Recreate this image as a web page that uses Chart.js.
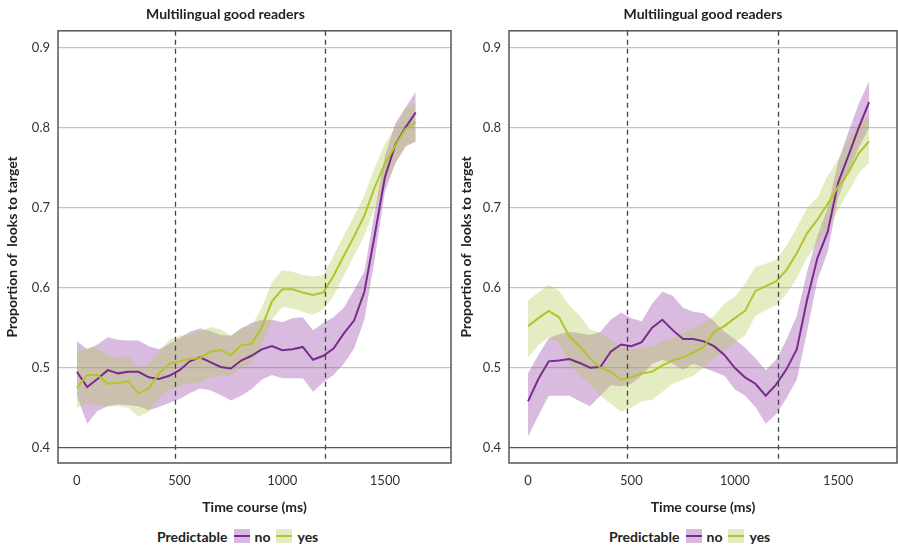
<!DOCTYPE html>
<html>
<head>
<meta charset="utf-8">
<script src="https://cdn.jsdelivr.net/npm/chart.js@4.4.1/dist/chart.umd.min.js"></script>
<style>
body{margin:0;background:#fff;font-family:Lato,sans-serif}
#wrap{position:relative;width:898px;height:550px;overflow:hidden}
.panel{position:absolute;top:0;height:520px}
.legend{position:absolute;top:527px;height:18px;font:bold 14px Lato,sans-serif;color:#222;display:flex;align-items:center;white-space:nowrap}
.sw{display:inline-block;width:16px;height:14px;position:relative;margin:0 5px 0 6px}
.sw i{position:absolute;left:0;right:0;top:6px;height:2px}
</style>
</head>
<body>
<div id="wrap">
  <div class="panel" style="left:0;width:454px"><canvas id="left" width="454" height="520"></canvas></div>
  <div class="panel" style="left:454px;width:444px"><canvas id="right" width="444" height="520"></canvas></div>
  <div class="legend" style="left:157px">Predictable<span class="sw sw-no"><i></i></span>no<span class="sw sw-yes"><i></i></span>yes</div>
  <div class="legend" style="left:609px">Predictable<span class="sw sw-no"><i></i></span>no<span class="sw sw-yes"><i></i></span>yes</div>
</div>
<script>
const times=[0,50,100,150,200,250,300,350,400,450,500,550,600,650,700,750,800,850,900,950,1000,1050,1100,1150,1200,1250,1300,1350,1400,1450,1500,1550,1600,1650];
const xTicks=[0,500,1000,1500];
const yTicks=[0.4,0.5,0.6,0.7,0.8,0.9];
const markers=[480,1210];
const panelTitle="Multilingual good readers";

// left panel
const leftNo=[0.495,0.476,0.486,0.497,0.493,0.495,0.495,0.488,0.486,0.490,0.497,0.508,0.513,0.507,0.501,0.499,0.509,0.515,0.523,0.527,0.522,0.523,0.526,0.510,0.515,0.524,0.543,0.559,0.595,0.665,0.738,0.778,0.800,0.819];
const leftNoHi=[0.533,0.523,0.529,0.538,0.535,0.534,0.534,0.527,0.523,0.530,0.537,0.545,0.549,0.546,0.541,0.540,0.549,0.556,0.560,0.560,0.557,0.562,0.563,0.547,0.556,0.563,0.575,0.597,0.620,0.695,0.765,0.805,0.825,0.845];
const leftNoLo=[0.465,0.430,0.446,0.452,0.454,0.453,0.452,0.447,0.451,0.456,0.461,0.468,0.474,0.472,0.466,0.459,0.465,0.473,0.485,0.491,0.487,0.487,0.487,0.470,0.482,0.491,0.505,0.524,0.560,0.635,0.720,0.755,0.777,0.782];
const leftYes=[0.475,0.491,0.491,0.480,0.481,0.483,0.468,0.474,0.493,0.505,0.508,0.511,0.512,0.520,0.522,0.516,0.528,0.530,0.550,0.583,0.598,0.598,0.594,0.591,0.594,0.615,0.640,0.664,0.690,0.725,0.755,0.777,0.798,0.807];
const leftYesHi=[0.520,0.525,0.525,0.515,0.512,0.515,0.500,0.505,0.520,0.535,0.540,0.542,0.545,0.551,0.548,0.540,0.550,0.552,0.575,0.607,0.622,0.620,0.616,0.614,0.616,0.640,0.665,0.690,0.715,0.750,0.780,0.800,0.825,0.830];
const leftYesLo=[0.450,0.455,0.454,0.452,0.452,0.450,0.439,0.445,0.462,0.472,0.477,0.480,0.482,0.488,0.490,0.490,0.500,0.505,0.527,0.560,0.576,0.574,0.570,0.566,0.573,0.590,0.615,0.640,0.665,0.700,0.730,0.755,0.775,0.785];

// right panel
const rightNo=[0.458,0.486,0.508,0.509,0.511,0.506,0.500,0.501,0.520,0.529,0.527,0.532,0.550,0.560,0.547,0.536,0.536,0.533,0.527,0.516,0.500,0.488,0.480,0.465,0.479,0.498,0.523,0.585,0.637,0.670,0.731,0.765,0.800,0.832];
const rightNoHi=[0.493,0.516,0.537,0.542,0.545,0.543,0.541,0.545,0.560,0.569,0.562,0.558,0.580,0.595,0.590,0.575,0.570,0.568,0.558,0.545,0.536,0.525,0.512,0.497,0.510,0.535,0.565,0.620,0.665,0.700,0.757,0.795,0.830,0.858];
const rightNoLo=[0.414,0.440,0.465,0.465,0.465,0.458,0.452,0.465,0.478,0.477,0.480,0.490,0.505,0.510,0.505,0.4975,0.505,0.500,0.495,0.490,0.473,0.465,0.451,0.430,0.442,0.462,0.485,0.545,0.610,0.645,0.712,0.745,0.775,0.800];
const rightYes=[0.552,0.562,0.571,0.563,0.539,0.527,0.512,0.500,0.495,0.485,0.488,0.493,0.495,0.503,0.509,0.513,0.519,0.526,0.545,0.552,0.562,0.571,0.596,0.602,0.608,0.622,0.643,0.668,0.685,0.705,0.726,0.744,0.768,0.783];
const rightYesHi=[0.584,0.594,0.604,0.596,0.578,0.565,0.548,0.543,0.535,0.526,0.523,0.525,0.527,0.533,0.537,0.543,0.550,0.556,0.565,0.580,0.589,0.605,0.626,0.630,0.635,0.652,0.675,0.700,0.713,0.740,0.760,0.785,0.805,0.814];
const rightYesLo=[0.513,0.528,0.538,0.532,0.505,0.490,0.480,0.465,0.455,0.445,0.450,0.458,0.460,0.470,0.480,0.485,0.490,0.500,0.512,0.520,0.532,0.540,0.565,0.572,0.578,0.592,0.612,0.637,0.655,0.675,0.697,0.720,0.743,0.756];

const colNo="#7b2a8e", colYes="#b2c52c";
const bandNo="rgba(158,85,172,0.40)", bandYes="rgba(181,201,86,0.36)";

document.querySelectorAll(".sw-no").forEach(e=>{e.style.background="#d8bbde";e.firstChild.style.background=colNo});
document.querySelectorAll(".sw-yes").forEach(e=>{e.style.background="#e5ecc4";e.firstChild.style.background=colYes});

const pts=arr=>arr.map((v,i)=>({x:times[i],y:v}));

const frame={
  id:"frame",
  afterDatasetsDraw(chart){
    const {ctx,chartArea:a,scales:{x}}=chart;
    ctx.save();
    ctx.strokeStyle="#444";
    ctx.lineWidth=1.3;
    ctx.setLineDash([5,4]);
    markers.forEach(m=>{
      const px=Math.round(x.getPixelForValue(m))+0.5;
      ctx.beginPath();ctx.moveTo(px,a.top);ctx.lineTo(px,a.bottom);ctx.stroke();
    });
    ctx.setLineDash([]);
    ctx.strokeStyle="#555";
    ctx.lineWidth=1.5;
    ctx.strokeRect(a.left,a.top,a.right-a.left,a.bottom-a.top);
    ctx.restore();
  }
};

function band(lo,hi,color,order){
  return [
    {data:pts(lo),borderWidth:0,pointRadius:0,fill:false,order},
    {data:pts(hi),borderWidth:0,pointRadius:0,fill:"-1",backgroundColor:color,order}
  ];
}
function line(vals,color,order){
  return {data:pts(vals),borderColor:color,borderWidth:2,pointRadius:0,fill:false,tension:0,order};
}

function drawPanel(id,d,xmax,yWidth,padRight,fullTitle){
  new Chart(document.getElementById(id),{
    type:"line",
    data:{datasets:[
      ...band(d.noLo,d.noHi,bandNo,4),
      ...band(d.yesLo,d.yesHi,bandYes,3),
      line(d.no,colNo,2),
      line(d.yes,colYes,1)
    ]},
    options:{
      responsive:false,
      animation:false,
      layout:{padding:{left:0,right:padRight,top:0,bottom:0}},
      plugins:{
        legend:{display:false},
        tooltip:{enabled:false},
        title:{display:true,text:panelTitle,fullSize:fullTitle,color:"#222",
          font:{family:"Lato",size:14,weight:"bold"},padding:{top:6,bottom:8}}
      },
      scales:{
        x:{type:"linear",min:-92,max:xmax,
          afterBuildTicks:s=>{s.ticks=xTicks.map(v=>({value:v}))},
          afterFit:s=>{s.height=57},
          grid:{display:false,drawTicks:false},
          border:{display:false},
          ticks:{padding:10,color:"#333",font:{family:"Lato",size:13},maxRotation:0,callback:v=>String(v)},
          title:{display:true,text:"Time course (ms)",color:"#222",font:{family:"Lato",size:14,weight:"bold"},padding:{top:4,bottom:4}}
        },
        y:{min:0.381,max:0.921,
          afterBuildTicks:s=>{s.ticks=yTicks.map(v=>({value:v}))},
          afterFit:s=>{s.width=yWidth},
          grid:{drawTicks:false,lineWidth:1.2,color:c=>c.tick&&c.tick.value===0.4?"#555":"#c2c2c2"},
          border:{display:false},
          ticks:{padding:8,color:"#333",font:{family:"Lato",size:13},callback:v=>v.toFixed(1)},
          title:{display:true,text:"Proportion of  looks to target",color:"#222",font:{family:"Lato",size:14,weight:"bold"},padding:{top:4,bottom:4}}
        }
      }
    },
    plugins:[frame]
  });
}

drawPanel("left",{no:leftNo,noHi:leftNoHi,noLo:leftNoLo,yes:leftYes,yesHi:leftYesHi,yesLo:leftYesLo},1822,58,3,true);
drawPanel("right",{no:rightNo,noHi:rightNoHi,noLo:rightNoLo,yes:rightYes,yesHi:rightYesHi,yesLo:rightYesLo},1785,55,1,false);
</script>
</body>
</html>
